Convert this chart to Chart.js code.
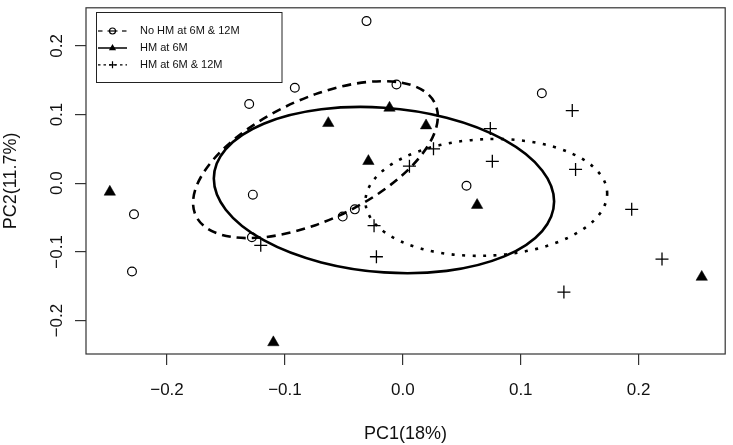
<!DOCTYPE html>
<html>
<head>
<meta charset="utf-8">
<title>PCA scatter with ellipses</title>
<script src="https://cdn.jsdelivr.net/npm/chart.js@4/dist/chart.umd.min.js"></script>
<style>
  html, body { margin: 0; padding: 0; background: #fff; }
  canvas { display: block; }
</style>
</head>
<body>
<canvas id="pcaChart" width="733" height="445"></canvas>
<script>
// No HM at 6M & 12M  (open circles)
var noHmX = [-0.0308, -0.0916, -0.1303, -0.1272, -0.0054, 0.1179, 0.0540, -0.2280, -0.2297, -0.1280, -0.0510, -0.0407];
var noHmY = [0.2360, 0.1390, 0.1153, -0.0167, 0.1438, 0.1310, -0.0038, -0.0452, -0.1286, -0.0786, -0.0486, -0.0381];

// HM at 6M  (filled triangles)
var hm6X = [-0.0632, -0.2485, -0.0113, 0.0197, -0.0292, 0.0630, 0.2535, -0.1098];
var hm6Y = [0.0873, -0.0127, 0.1096, 0.0839, 0.0320, -0.0319, -0.1366, -0.2319];

// HM at 6M & 12M  (plus signs)
var hm612X = [0.1437, 0.0742, 0.0759, 0.1465, 0.0260, 0.0056, -0.0244, -0.0224, 0.1941, 0.2198, 0.1366, -0.1205];
var hm612Y = [0.1057, 0.0795, 0.0319, 0.0200, 0.0500, 0.0248, -0.0619, -0.1071, -0.0381, -0.1105, -0.1586, -0.0905];

// ellipses: centre x, centre y, conjugate semi-axes u (x, y) and v (x, y), in PC units
var noHmEllipse = [-0.0741, 0.0343, 0.1038, 0.0629, 0, 0.0954];
var hm6Ellipse = [-0.0160, -0.0100, 0.1443, -0.0167, 0, 0.1199];
var hm612Ellipse = [0.0708, -0.0207, 0.1025, 0.0057, 0, 0.0849];

var groupNames = ['No HM at 6M & 12M', 'HM at 6M', 'HM at 6M & 12M'];
var xTickValues = [-0.2, -0.1, 0.0, 0.1, 0.2];
var yTickValues = [-0.2, -0.1, 0.0, 0.1, 0.2];
var xTitle = 'PC1(18%)';
var yTitle = 'PC2(11.7%)';

var FONT = "'Liberation Sans', Arial, Helvetica, sans-serif";

function toPoints(xs, ys) {
  return xs.map(function (x, i) { return { x: x, y: ys[i] }; });
}

function fmt(v) {
  return v.toFixed(1).replace('-', '\u2212');
}

function traceEllipse(ctx, xs, ys, e) {
  var cx = xs.getPixelForValue(e[0]);
  var cy = ys.getPixelForValue(e[1]);
  var ux = xs.getPixelForValue(e[0] + e[2]) - cx;
  var uy = ys.getPixelForValue(e[1] + e[3]) - cy;
  var vx = xs.getPixelForValue(e[0] + e[4]) - cx;
  var vy = ys.getPixelForValue(e[1] + e[5]) - cy;
  ctx.save();
  ctx.transform(ux, uy, vx, vy, cx, cy);
  ctx.beginPath();
  ctx.arc(0, 0, 1, 0, Math.PI * 2);
  ctx.restore();
  ctx.stroke();
}

var ellipsePlugin = {
  id: 'ellipses',
  beforeDatasetsDraw: function (chart) {
    var ctx = chart.ctx;
    var xs = chart.scales.x, ys = chart.scales.y;
    ctx.save();
    ctx.strokeStyle = '#000';
    ctx.lineWidth = 2.6;

    ctx.setLineDash([9, 6]);
    traceEllipse(ctx, xs, ys, noHmEllipse);

    ctx.setLineDash([]);
    traceEllipse(ctx, xs, ys, hm6Ellipse);

    ctx.setLineDash([3, 7.5]);
    traceEllipse(ctx, xs, ys, hm612Ellipse);
    ctx.restore();
  }
};

var framePlugin = {
  id: 'frame',
  afterDraw: function (chart) {
    var ctx = chart.ctx;
    var a = chart.chartArea;
    var xs = chart.scales.x, ys = chart.scales.y;
    ctx.save();

    // box round the plot region
    ctx.strokeStyle = '#333';
    ctx.lineWidth = 1.2;
    ctx.strokeRect(a.left, a.top, a.right - a.left, a.bottom - a.top);

    // tick labels
    ctx.fillStyle = '#111';
    ctx.font = '17px ' + FONT;
    ctx.textAlign = 'center';
    ctx.textBaseline = 'alphabetic';
    xs.ticks.forEach(function (t) {
      ctx.fillText(fmt(t.value), xs.getPixelForValue(t.value), 395);
    });
    ys.ticks.forEach(function (t) {
      ctx.save();
      ctx.translate(61.5, ys.getPixelForValue(t.value));
      ctx.rotate(-Math.PI / 2);
      ctx.fillText(fmt(t.value), 0, 0);
      ctx.restore();
    });

    // legend box
    var lx = 96.5, ly = 12.5, lw = 185.5, lh = 70;
    ctx.fillStyle = '#fff';
    ctx.fillRect(lx, ly, lw, lh);
    ctx.strokeStyle = '#222';
    ctx.lineWidth = 1;
    ctx.strokeRect(lx, ly, lw, lh);

    var rows = [31, 48, 64.8];
    var x0 = 98, x1 = 127, mx = 112.5;
    ctx.strokeStyle = '#000';

    // row 1: dashed + circle
    ctx.lineWidth = 1.2;
    [[98, 102.5], [107.5, 117.5], [122, 126.5]].forEach(function (s) {
      ctx.beginPath();
      ctx.moveTo(s[0], rows[0]);
      ctx.lineTo(s[1], rows[0]);
      ctx.stroke();
    });
    ctx.beginPath();
    ctx.arc(mx, rows[0], 3, 0, Math.PI * 2);
    ctx.stroke();

    // row 2: solid + triangle
    ctx.lineWidth = 1.5;
    ctx.beginPath();
    ctx.moveTo(x0, rows[1]);
    ctx.lineTo(x1, rows[1]);
    ctx.stroke();
    ctx.fillStyle = '#000';
    ctx.beginPath();
    ctx.moveTo(mx, rows[1] - 4);
    ctx.lineTo(mx + 3.6, rows[1] + 2.2);
    ctx.lineTo(mx - 3.6, rows[1] + 2.2);
    ctx.closePath();
    ctx.fill();

    // row 3: dotted + plus
    ctx.lineWidth = 1.2;
    ctx.setLineDash([2.5, 3]);
    ctx.beginPath();
    ctx.moveTo(x0, rows[2]);
    ctx.lineTo(x1, rows[2]);
    ctx.stroke();
    ctx.setLineDash([]);
    ctx.beginPath();
    ctx.moveTo(mx - 3.5, rows[2]);
    ctx.lineTo(mx + 3.5, rows[2]);
    ctx.moveTo(mx, rows[2] - 3.5);
    ctx.lineTo(mx, rows[2] + 3.5);
    ctx.stroke();

    ctx.fillStyle = '#111';
    ctx.font = '11px ' + FONT;
    ctx.textAlign = 'left';
    ctx.textBaseline = 'middle';
    groupNames.forEach(function (name, i) {
      ctx.fillText(name, 140, rows[i]);
    });

    ctx.restore();
  }
};

var ctx = document.getElementById('pcaChart').getContext('2d');
var chart = new Chart(ctx, {
  type: 'scatter',
  data: {
    datasets: [
      {
        label: groupNames[0],
        data: toPoints(noHmX, noHmY),
        pointStyle: 'circle',
        pointRadius: 4.4,
        pointHoverRadius: 4.4,
        pointBorderWidth: 1.2,
        pointBorderColor: '#000',
        pointBackgroundColor: 'rgba(0,0,0,0)'
      },
      {
        label: groupNames[1],
        data: toPoints(hm6X, hm6Y),
        pointStyle: 'triangle',
        pointRadius: 6.6,
        pointHoverRadius: 6.6,
        pointBorderWidth: 0.5,
        pointBorderColor: '#000',
        pointBackgroundColor: '#000'
      },
      {
        label: groupNames[2],
        data: toPoints(hm612X, hm612Y),
        pointStyle: 'cross',
        pointRadius: 6.5,
        pointHoverRadius: 6.5,
        pointBorderWidth: 1.3,
        pointBorderColor: '#000',
        pointBackgroundColor: '#000'
      }
    ]
  },
  options: {
    responsive: false,
    animation: false,
    devicePixelRatio: 1,
    layout: { padding: { top: 2, right: 2, left: 0, bottom: 0 } },
    plugins: {
      legend: { display: false },
      tooltip: { enabled: false }
    },
    scales: {
      x: {
        type: 'linear',
        min: -0.2687,
        max: 0.2734,
        afterBuildTicks: function (s) {
          s.ticks = xTickValues.map(function (v) { return { value: v }; });
        },
        afterFit: function (s) { s.height = 91; },
        grid: { drawOnChartArea: false, drawTicks: true, tickLength: 11, color: '#333', lineWidth: 1.2 },
        border: { display: false },
        ticks: { display: false },
        title: { display: true, text: xTitle, color: '#111', padding: 0, font: { family: FONT, size: 18 } }
      },
      y: {
        type: 'linear',
        min: -0.2487,
        max: 0.2554,
        afterBuildTicks: function (s) {
          s.ticks = yTickValues.map(function (v) { return { value: v }; });
        },
        afterFit: function (s) { s.width = 86; },
        grid: { drawOnChartArea: false, drawTicks: true, tickLength: 11, color: '#333', lineWidth: 1.2 },
        border: { display: false },
        ticks: { display: false },
        title: { display: true, text: yTitle, color: '#111', padding: 0, font: { family: FONT, size: 18 } }
      }
    }
  },
  plugins: [ellipsePlugin, framePlugin]
});
</script>
</body>
</html>
